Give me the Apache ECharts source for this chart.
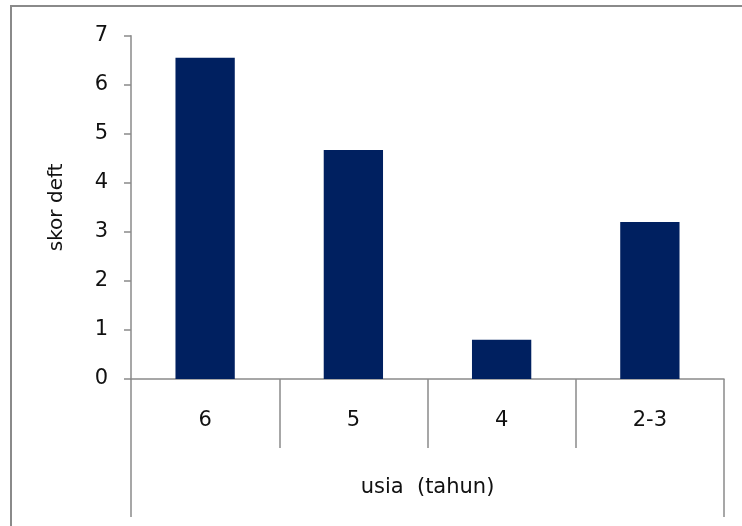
<!DOCTYPE html>
<html>
<head>
<meta charset="utf-8">
<script src="https://cdn.jsdelivr.net/npm/echarts@6/dist/echarts.min.js"></script>
<style>
  html, body { margin: 0; padding: 0; background: #fff; overflow: hidden; }
  #frame { position: absolute; left: 10px; top: 5px; width: 900px; height: 700px; border: 2px solid #8a8a8a; box-sizing: border-box; }
  #chart { position: absolute; left: 0; top: 0; width: 742px; height: 526px; }
</style>
</head>
<body>
<div id="frame"></div>
<div id="chart"></div>
<script>
const categories = ['6', '5', '4', '2-3'];
const values = [6.55, 4.67, 0.80, 3.20];
const yTicks = [0, 1, 2, 3, 4, 5, 6, 7];
const groupLabel = ['usia  (tahun)'];
const yAxisTitle = 'skor deft';

const axisColor = '#8a8a8a';
const font = 'DejaVu Sans';
const chart = echarts.init(document.getElementById('chart'), null, { renderer: 'canvas' });
chart.setOption({
  backgroundColor: 'transparent',
  animation: false,
  grid: { left: 131, right: 18, top: 35.7, bottom: 147, containLabel: false },
  xAxis: [
    {
      type: 'category',
      data: categories,
      position: 'bottom',
      boundaryGap: true,
      axisLine: { show: true, lineStyle: { color: axisColor, width: 1.5 } },
      axisTick: { show: true, interval: 0, alignWithLabel: false, length: 69, lineStyle: { color: axisColor, width: 1.5 } },
      axisLabel: { interval: 0, margin: 31, color: '#111', fontFamily: font, fontSize: 21 },
      splitLine: { show: false }
    },
    {
      type: 'category',
      data: groupLabel,
      position: 'bottom',
      boundaryGap: true,
      axisLine: { show: false },
      axisTick: { show: true, interval: 0, alignWithLabel: false, length: 138, lineStyle: { color: axisColor, width: 1.5 } },
      axisLabel: { interval: 0, margin: 98, color: '#111', fontFamily: font, fontSize: 21 },
      splitLine: { show: false }
    }
  ],
  yAxis: {
    type: 'value',
    min: yTicks[0],
    max: yTicks[yTicks.length - 1],
    interval: 1,
    name: yAxisTitle,
    nameLocation: 'middle',
    nameRotate: 90,
    nameGap: 64,
    nameTextStyle: { color: '#111', fontFamily: font, fontSize: 20 },
    axisLine: { show: true, lineStyle: { color: axisColor, width: 1.5 } },
    axisTick: { show: true, length: 7, lineStyle: { color: axisColor, width: 1.5 } },
    axisLabel: { margin: 23, color: '#111', fontFamily: font, fontSize: 21 },
    splitLine: { show: false }
  },
  series: [{
    type: 'bar',
    xAxisIndex: 0,
    data: values,
    barWidth: '40%',
    itemStyle: { color: '#002060' }
  }]
});
</script>
</body>
</html>
